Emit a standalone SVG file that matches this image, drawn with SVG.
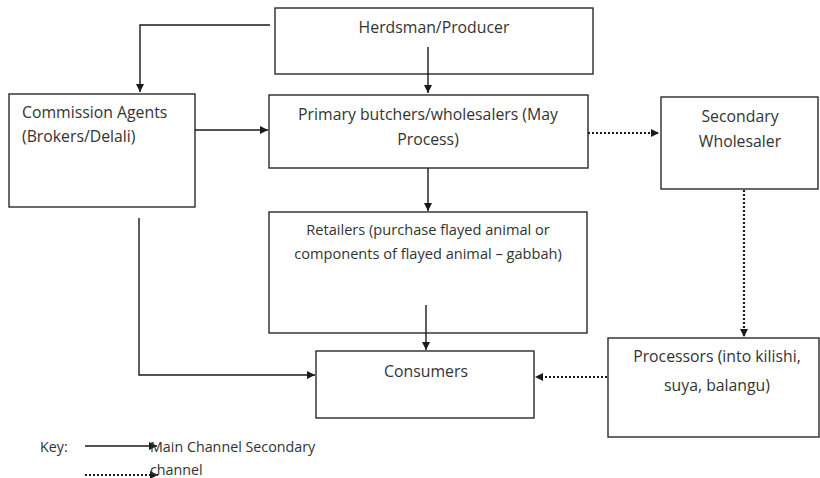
<svg xmlns="http://www.w3.org/2000/svg" width="820" height="478" viewBox="0 0 820 478">
<defs>
<marker id="ah" viewBox="0 0 10 10" refX="10" refY="5" markerWidth="8" markerHeight="8" markerUnits="userSpaceOnUse" orient="auto">
<path d="M0,0 L10,5 L0,10 z" fill="#1a1a1a"/>
</marker>
<style>
rect.box{fill:#fff;stroke:#2a2a2a;stroke-width:1.4}
text{font-family:"Open Sans","Liberation Sans",sans-serif;font-size:15.8px;fill:#333}
.c{text-anchor:middle}
.s{font-size:14.6px}
.k{font-size:14.3px}
.main{fill:none;stroke:#1a1a1a;stroke-width:1.4;marker-end:url(#ah)}
.sec{fill:none;stroke:#1a1a1a;stroke-width:2.2;stroke-dasharray:2 2;marker-end:url(#ah)}
</style>
</defs>
<rect width="820" height="478" fill="#fff"/>
<g id="herdsman"><rect class="box" x="275" y="8" width="318" height="66"/><text class="c" x="434" y="33">Herdsman/Producer</text></g>
<g id="commission"><rect class="box" x="9" y="94" width="186" height="113"/><text x="22" y="118">Commission Agents</text><text x="22" y="142">(Brokers/Delali)</text></g>
<g id="primary"><rect class="box" x="269" y="95" width="319" height="73"/><text class="c" x="428" y="120">Primary butchers/wholesalers (May</text><text class="c" x="428" y="145">Process)</text></g>
<g id="secondary"><rect class="box" x="661" y="97" width="157" height="92"/><text class="c" x="740" y="122">Secondary</text><text class="c" x="740" y="147">Wholesaler</text></g>
<g id="retailers"><rect class="box" x="269" y="212" width="318" height="121"/><text class="c s" x="428" y="235">Retailers (purchase flayed animal or</text><text class="c s" x="428" y="259">components of flayed animal – gabbah)</text></g>
<g id="consumers"><rect class="box" x="316" y="351" width="218" height="67"/><text class="c" x="426" y="377">Consumers</text></g>
<g id="processors"><rect class="box" x="608" y="338" width="211" height="99"/><text class="c" x="717" y="362">Processors (into kilishi,</text><text class="c" x="717" y="391">suya, balangu)</text></g>
<g id="connectors">
<path class="main" d="M270,25 H140 V92"/>
<path class="main" d="M428,47 V93"/>
<path class="main" d="M195,130 H268"/>
<path class="sec" d="M588,133 H659"/>
<path class="sec" d="M744,190 V337"/>
<path class="main" d="M428,168 V211"/>
<path class="main" d="M426,305 V350"/>
<path class="main" d="M139,218 V375 H315"/>
<path class="sec" d="M607,377 H535"/>
</g>
<g id="key">
<text class="k" x="40" y="452">Key:</text>
<path class="main" d="M85,446 H157"/>
<text class="k" x="150" y="452">Main Channel Secondary</text>
<path class="sec" d="M85,475 H158"/>
<text class="k" x="150" y="475">channel</text>
</g>
</svg>
